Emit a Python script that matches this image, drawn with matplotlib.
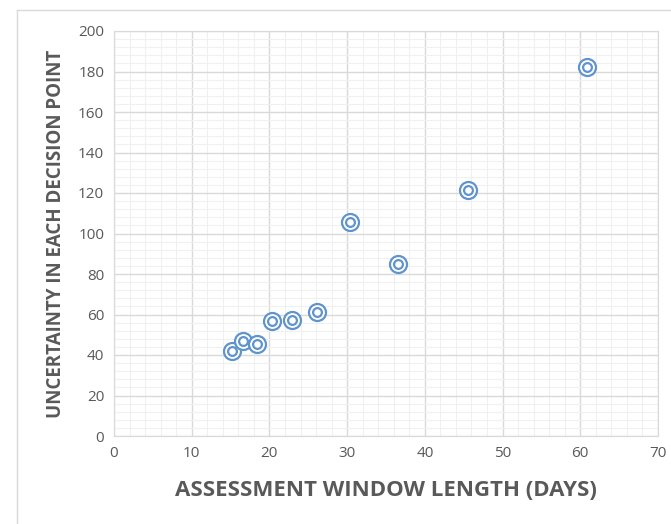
import matplotlib
matplotlib.use("Agg")
from matplotlib import pyplot as plt
from matplotlib.lines import Line2D
from matplotlib.ticker import MultipleLocator

window_days = [15.2, 16.6, 18.4, 20.3, 22.9, 26.1, 30.4, 36.5, 45.6, 60.9]
uncertainty = [42, 47, 45.5, 57, 57.3, 61.2, 105.7, 85, 121.5, 182]

x_ticks = [0, 10, 20, 30, 40, 50, 60, 70]
y_ticks = [0, 20, 40, 60, 80, 100, 120, 140, 160, 180, 200]

plt.rcParams['font.family'] = ['Open Sans', 'DejaVu Sans']

blue = '#6094CC'
grey_text = '#595959'

fig = plt.figure(figsize=(6.71, 5.24), dpi=100)
ax = fig.add_axes([114 / 671, 88 / 524, 544 / 671, 405 / 524])

ax.set_xlim(0, 70)
ax.set_ylim(0, 200)
ax.set_xticks(x_ticks)
ax.set_yticks(y_ticks)
ax.xaxis.set_minor_locator(MultipleLocator(2))
ax.yaxis.set_minor_locator(MultipleLocator(4))

ax.grid(which='major', color='#D9D9D9', linewidth=1.0)
ax.grid(which='minor', color='#F0F0F0', linewidth=0.8)
ax.set_axisbelow(True)

for side in ['top', 'right', 'left', 'bottom']:
    ax.spines[side].set_color('#D9D9D9')

ax.tick_params(which='both', length=0)
ax.tick_params(axis='both', labelsize=11, labelcolor=grey_text, pad=7)

# double ring markers
ax.scatter(window_days, uncertainty, s=150, facecolor='white', edgecolor=blue, linewidth=1.6, zorder=3)
ax.scatter(window_days, uncertainty, s=40, facecolor='white', edgecolor=blue, linewidth=1.6, zorder=4)

ax.set_xlabel('ASSESSMENT WINDOW LENGTH (DAYS)', fontsize=16, fontweight='bold', color=grey_text, labelpad=14)
ax.set_ylabel('UNCERTAINTY IN EACH DECISION POINT', fontsize=13.5, fontweight='bold', color=grey_text, labelpad=9)

# chart area border (left and top visible)
fig.add_artist(Line2D([17 / 671, 17 / 671], [0, 1 - 10 / 524], color='#D9D9D9', linewidth=1, transform=fig.transFigure))
fig.add_artist(Line2D([17 / 671, 1], [1 - 10 / 524, 1 - 10 / 524], color='#D9D9D9', linewidth=1, transform=fig.transFigure))

plt.savefig('out.png', dpi=100)
plt.close()
